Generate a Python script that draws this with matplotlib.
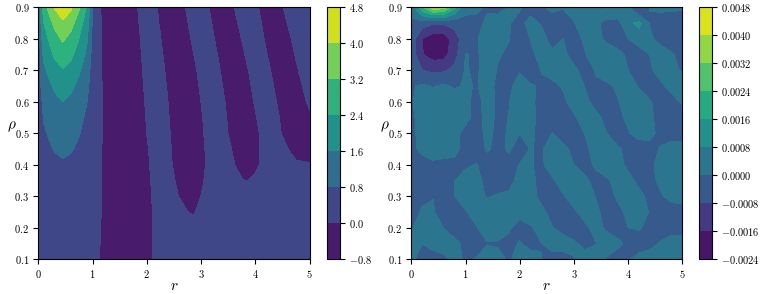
import numpy as np
import matplotlib
matplotlib.use("Agg")
import matplotlib.pyplot as plt

plt.rcParams["mathtext.fontset"] = "cm"
plt.rcParams["font.family"] = "serif"
plt.rcParams["font.serif"] = ["cmr10", "DejaVu Serif"]
plt.rcParams["axes.formatter.use_mathtext"] = True

# rows run from rho = 0.9 (first) down to rho = 0.1 (last)
rho = [0.9, 0.85, 0.8, 0.75, 0.7, 0.65, 0.6, 0.55, 0.5, 0.45, 0.4, 0.35, 0.3, 0.25, 0.2, 0.15, 0.1]

left_r = [0, .05, .1, .2, .3, .45, .6, .75, .9, 1, 1.25, 1.5, 1.75, 2, 2.25, 2.5, 2.75, 2.85, 3, 3.25, 3.5, 3.75, 3.85, 4, 4.25, 4.5, 4.75, 5]
left_z = [
    [.02, 1.93, 2.85, 3.45, 4.05, 4.6, 4.14, 3.31, 2.3, .85, -.57, -.33, -.08, .17, -.05, -.21, .04, .14, .14, -.11, -.11, .14, .2, .06, -.19, -.01, .24, .49],
    [.02, 1.62, 2.39, 2.89, 3.39, 3.85, 3.47, 2.77, 1.93, .7, -.39, -.35, -.105, .145, -.02, -.25, -.01, .09, .195, -.055, -.175, .075, .175, .11, -.14, -.085, .165, .415],
    [.02, 1.39, 2.05, 2.48, 2.9, 3.3, 2.97, 2.38, 1.65, .6, -.31, -.35, -.13, .12, .01, -.24, -.06, .04, .19, -.005, -.24, .01, .11, .16, -.09, -.16, .09, .34],
    [.02, 1.2, 1.77, 2.14, 2.51, 2.85, 2.57, 2.05, 1.43, .52, -.24, -.35, -.15, .1, .045, -.205, -.115, -.015, .135, .05, -.2, -.055, .045, .195, -.03, -.225, .025, .275],
    [.02, .99, 1.46, 1.76, 2.07, 2.35, 2.12, 1.69, 1.18, .43, -.2, -.35, -.17, .08, .08, -.17, -.17, -.07, .08, .1, -.15, -.12, -.02, .13, .03, -.22, -.04, .21],
    [.02, .82, 1.21, 1.46, 1.72, 1.95, 1.76, 1.4, .98, .36, -.155, -.35, -.19, .06, .11, -.14, -.21, -.11, .04, .145, -.105, -.17, -.07, .08, .085, -.165, -.115, .135],
    [.02, .67, .99, 1.2, 1.41, 1.6, 1.44, 1.15, .8, .3, -.12, -.33, -.21, .04, .14, -.11, -.25, -.15, .005, .19, -.06, -.22, -.12, .03, .14, -.11, -.19, .06],
    [.02, .57, .84, 1.01, 1.19, 1.35, 1.22, .97, .68, .25, -.1, -.32, -.23, .02, .16, -.09, -.28, -.18, -.03, .22, -.03, -.27, -.17, -.02, .19, -.06, -.25, -.05],
    [.02, .48, .71, .86, 1.01, 1.15, 1.04, .83, .58, .21, -.08, -.33, -.25, .005, .18, -.07, -.31, -.21, -.06, .25, -.005, -.25, -.22, -.07, .18, -.02, -.25, -.3],
    [.02, .4, .59, .71, .84, .95, .86, .68, .48, .17, -.08, -.33, -.28, -.03, .2, -.05, -.3, -.22, -.07, .18, .06, -.19, -.23, -.08, .17, .07, -.1, -.12],
    [.02, .29, .43, .53, .62, .7, .63, .5, .35, .13, -.06, -.33, -.3, -.05, .2, -.03, -.3, -.23, -.08, .17, .12, -.13, -.22, -.07, .18, .2, .04, .02],
    [.02, .21, .31, .38, .44, .5, .45, .36, .25, .1, -.05, -.33, -.32, -.07, .18, .02, -.25, -.2, -.05, .2, .25, .02, -.01, .07, .3, .4, .3, .3],
    [.02, .16, .24, .29, .33, .38, .34, .27, .19, .08, -.04, -.33, -.34, -.09, .16, .08, -.17, -.15, .005, .25, .3, .1, .1, .2, .3, .4, .3, .3],
    [.02, .13, .19, .23, .26, .3, .27, .22, .15, .07, -.04, -.33, -.35, -.1, .15, .2, .01, -.03, .08, .3, .35, .25, .25, .25, .3, .35, .3, .3],
    [.02, .09, .14, .17, .19, .22, .2, .16, .11, .06, -.04, -.33, -.35, -.1, .15, .25, .05, .1, .2, .3, .35, .3, .3, .3, .3, .3, .3, .3],
    [.02, .06, .09, .11, .13, .15, .14, .11, .08, .05, -.04, -.33, -.35, -.1, .15, .25, .25, .25, .25, .25, .25, .25, .25, .25, .25, .25, .25, .25],
    [.02, .04, .06, .08, .09, .1, .09, .07, .05, .04, -.04, -.33, -.35, -.1, .15, .25, .25, .25, .25, .25, .25, .25, .25, .25, .25, .25, .25, .25],
]
left_levels = [-0.8, 0.0, 0.8, 1.6, 2.4, 3.2, 4.0, 4.8]

right_r = [0, .2, .4, .6, .8, 1, 1.2, 1.4, 1.6, 1.8, 2, 2.2, 2.4, 2.6, 2.8, 3, 3.2, 3.4, 3.6, 3.8, 4, 4.2, 4.4, 4.6, 4.8, 5]
# units of 1e-4
right_z = [
    [2, 22, 38, 36, 18, 2, 2, -1, -2, .3, .5, -2, -1, 2, .5, 2, 3, 3, 8.5, 8, 1, -10, .2, 2, 2, 1],
    [-1, -4, -7, -7, -5, -2, -2.5, 1.5, 2.6, .3, -1.4, 1.6, -.5, -4, -4.5, -.3, 3.6, 1.6, -2.4, -2.9, 6, 10, -.5, -4.6, -5, -5],
    [-3, -16, -21, -21, -12, -3, -.7, 3.4, 1, .3, -3.9, .2, 2, -2, .1, -2.9, 1.1, 2.9, -1.7, -4, -.1, 4, 1.4, -2.7, -5, -5],
    [-3, -15.5, -20, -19, -11, .3, -1, 3, .5, -1, -5, -1.6, 2.4, 1, 1.6, -2.5, -.5, 3.5, 5, 2.5, -1.4, -4, .1, 4, .9, -3],
    [-2, -8, -9.5, -9, -6, .5, -1, 3, -.5, -3, -.5, -3.7, .2, 1.2, 2.1, 1.5, -2.5, .3, 4, 3.5, .1, -4, -1.2, 3, 2.5, -1],
    [-.7, 1, -.5, 1.2, -1, .9, -.5, 2.4, -1.5, -1.4, 2.6, .7, -.7, -.9, .5, 4, -.2, -.5, -1.5, 1, 3.4, -.7, -5, -1.6, 2.4, 5],
    [-.7, 3.4, 5, 5, 4, 1.6, -2, 2.1, -1, -.2, 2.4, 1.6, -2.4, -4.8, -1.4, 2.7, 1.8, -2.3, -5, -.6, 3.4, 4.8, .7, -3.4, -2.9, 1],
    [-1.4, 2.7, 5, 5, 5, 1.9, -2.1, 1.8, -1, .1, 2.6, 1.8, -2.2, -5, -5, -1, 3, 2, -2, -2.4, 1.6, 5, 1.4, -2.7, -5, -5],
    [-1.7, 2.4, 5, 5, 2, -2, -2.6, 1.5, -1.4, .5, .1, 1.2, -2, .1, -4, -3.7, .2, 4, .1, -4.7, -.7, 3.4, 2, -2, -5, -5],
    [-2, 1.8, .5, 1.5, 1.7, -2.4, -4, .9, -2.3, 1, -3.3, .3, -.8, 3.4, 2, -2, -1.6, 2.5, 5, 1.4, -2.5, -5, -2.4, .5, 4.5, 5],
    [-5, -3, -.2, -1, -1.5, -1.6, .4, -3.7, -5, -2.5, .3, .3, -1, 3, 4, -.05, -2.9, 1.2, 5, 2.5, -1.5, -5, -1.6, 2.5, 5, 5],
    [-5, -5, -5, -4, -.1, 4, 2, -2, -5, -2, 2, 1.9, -2.1, -1, 3, 5, 1.6, -2.5, -1.4, 2.7, 2.2, -1.9, -2.4, 1.7, 5, 5],
    [-3, -1.6, -.2, -3, -.1, 3.5, 3, -.7, 1, 1, 2, 2, -1.7, -4.7, -.7, 3.3, 4, -.2, -3, .9, 4.9, 2, -2, -1, 3, 5],
    [-3, .9, .7, -3.4, -4.7, -.6, 3.4, 5, 5, 1, 2.5, 5, 1.6, -2.5, -5, -1.2, 2.7, 1.6, -2.4, -2.2, 1.7, 3.5, -.5, -4.6, -5, -5],
    [-.7, 3.4, 3.9, -.2, -4, -4.5, -.5, 3.6, 5, 1, -3, -1, 3, .4, -3.6, -5, -1.7, 2.4, -1.1, -4, -.1, 1, -3, -5, -5, -5],
    [1, .1, 3, 3, 2, -2, -4.5, -.4, -1, -2.3, .7, -3, -.1, 4, 5, 1.2, -2.3, -.4, 3.5, 2, -2, -5, -3.2, .9, 4.9, 5],
    [1, -2, -4, -1.5, 2, -.9, .5, 4, 2.6, -1, 3, 4, .1, -4, -4.5, -.3, 3.6, 3.5, -.5, -4, -.7, 3.4, 5, 5, 5, 5],
]
right_levels = [-0.0024, -0.0016, -0.0008, 0.0, 0.0008, 0.0016, 0.0024, 0.0032, 0.0040, 0.0048]

W, H = 763, 294


def px_axes(fig, x0, x1, y0, y1):
    return fig.add_axes([x0 / W, 1 - y1 / H, (x1 - x0) / W, (y1 - y0) / H])


def panel(fig, box, cbox, r, z, levels, fmt):
    ax = px_axes(fig, *box)
    cs = ax.contourf(r, rho, z, levels=levels, cmap="viridis")
    ax.set_xticks([0, 1, 2, 3, 4, 5])
    ax.set_xticklabels([f"${v}$" for v in [0, 1, 2, 3, 4, 5]])
    ax.set_yticks([0.1, 0.2, 0.3, 0.4, 0.5, 0.6, 0.7, 0.8, 0.9])
    ax.set_yticklabels([f"${v:.1f}$" for v in [0.1, 0.2, 0.3, 0.4, 0.5, 0.6, 0.7, 0.8, 0.9]])
    ax.tick_params(labelsize=7.5, length=3.5, width=0.8, pad=3)
    ax.set_xlabel(r"$r$", fontsize=11, va="center")
    ax.xaxis.set_label_coords(0.5, -0.106)
    ax.set_ylabel(r"$\rho$", fontsize=11, rotation=0, ha="center", va="center")
    ax.yaxis.set_label_coords(-0.096, 0.525)
    cax = px_axes(fig, *cbox)
    cb = fig.colorbar(cs, cax=cax)
    cb.set_ticks(levels)
    cb.set_ticklabels([fmt % v for v in levels])
    cb.ax.tick_params(labelsize=7.5, length=3.5, width=0.8, pad=3)
    return ax


fig = plt.figure(figsize=(W / 100, H / 100), dpi=100)
panel(fig, (38.3, 309.7, 7.3, 259.3), (326.5, 339.5, 7.3, 259.3), left_r, np.array(left_z), left_levels, "$%.1f$")
panel(fig, (411.3, 682.3, 7.3, 259.3), (699.3, 712.3, 7.3, 259.3), right_r, np.array(right_z) * 1e-4, right_levels, "$%.4f$")
fig.savefig("out.png", dpi=100)
